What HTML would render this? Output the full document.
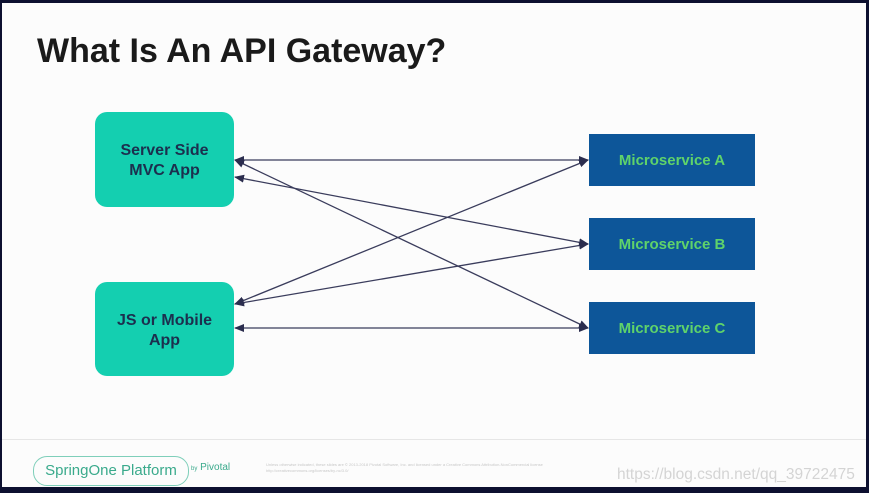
<!DOCTYPE html>
<html><head><style>
html,body{margin:0;padding:0}
body{width:869px;height:493px;position:relative;overflow:hidden;background:#0d1030;font-family:"Liberation Sans",sans-serif}
#slide{position:absolute;left:2px;top:3px;width:864px;height:484px;background:#fcfcfc}
.t{position:absolute;left:35px;top:29px;font-size:34px;font-weight:bold;color:#1a1a1a;letter-spacing:0px;white-space:nowrap}
.g{position:absolute;background:#14cfb0;border-radius:12px;color:#1c2f4e;font-weight:bold;font-size:16px;text-align:center;display:flex;align-items:center;justify-content:center;line-height:20px;padding-top:3px;box-sizing:border-box}
.m{position:absolute;left:587px;width:166px;height:52px;background:#0d5699;color:#5fd36a;font-weight:bold;font-size:15px;display:flex;align-items:center;justify-content:center}
.foot{position:absolute;left:0;top:436px;width:864px;height:1px;background:#e6e6e6}
.pill{position:absolute;left:31px;top:453px;width:154px;height:28px;border:1px solid #7fcfba;border-radius:14px;color:#3aaa8c;font-size:15px;line-height:28px;text-align:center}
.by{position:absolute;left:189px;top:459px;font-size:10px;color:#3aaa8c}
.sm{position:absolute;left:264px;top:459px;font-size:4px;color:#c8c8c8;line-height:6px}
.wm{position:absolute;left:615px;top:463px;font-size:15.5px;color:#d4d4d4}
</style></head><body>
<div id="slide">
<div class="t">What Is An API Gateway?</div>
<svg width="864" height="484" style="position:absolute;left:0;top:0">
<defs><marker id="a" markerWidth="10" markerHeight="8" refX="9" refY="4" orient="auto-start-reverse" markerUnits="userSpaceOnUse"><path d="M0,0L10,4L0,8z" fill="#2b2d4e"/></marker></defs>
<g stroke="#3a3c5c" stroke-width="1.3" fill="none" marker-start="url(#a)" marker-end="url(#a)">
<line x1="233" y1="157" x2="586" y2="157"/>
<line x1="233" y1="174" x2="586" y2="241"/>
<line x1="233" y1="157" x2="586" y2="325"/>
<line x1="233" y1="301" x2="586" y2="157"/>
<line x1="233" y1="301" x2="586" y2="241"/>
<line x1="233" y1="325" x2="586" y2="325"/>
</g>
</svg>
<div class="g" style="left:93px;top:109px;width:139px;height:95px">Server Side<br>MVC App</div>
<div class="g" style="left:93px;top:279px;width:139px;height:94px">JS or Mobile<br>App</div>
<div class="m" style="top:131px">Microservice A</div>
<div class="m" style="top:215px">Microservice B</div>
<div class="m" style="top:299px">Microservice C</div>
<div class="foot"></div>
<div class="pill">SpringOne Platform</div>
<div class="by"><span style="font-size:6px">by</span> Pivotal</div>
<div class="sm">Unless otherwise indicated, these slides are © 2013-2018 Pivotal Software, Inc. and licensed under a Creative Commons Attribution-NonCommercial license<br>http://creativecommons.org/licenses/by-nc/3.0/</div>
<div class="wm">https://blog.csdn.net/qq_39722475</div>
</div>
</body></html>
